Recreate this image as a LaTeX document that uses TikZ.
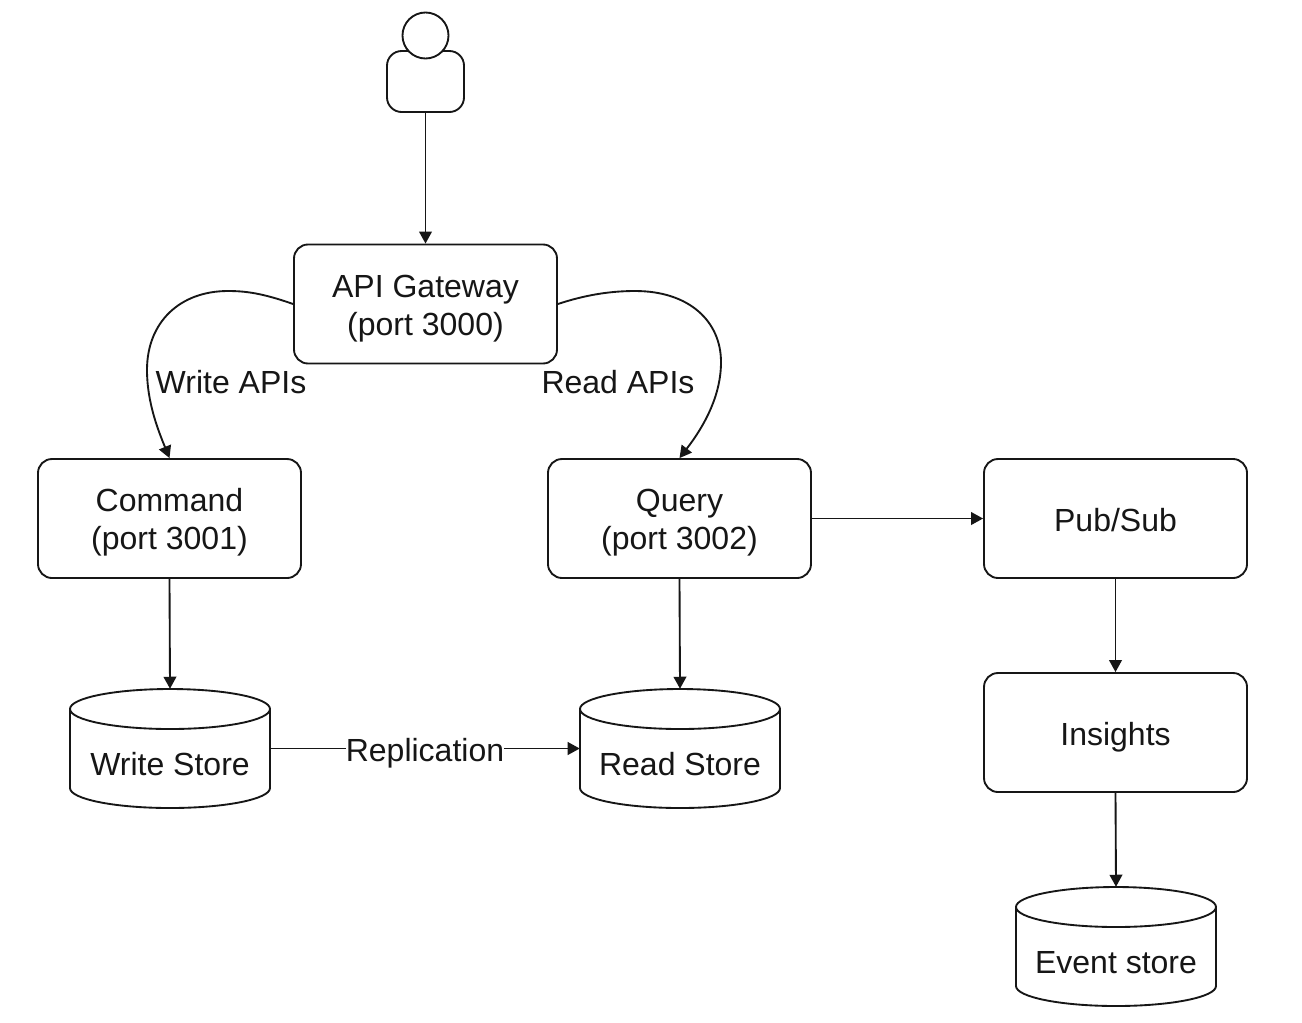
\documentclass[tikz,border=0pt]{standalone}
\usepackage{fontspec}
\setmainfont{Liberation Sans}
\usetikzlibrary{arrows.meta}
\definecolor{ink}{HTML}{161616}
\tikzset{
  x=0.75pt,y=-0.75pt,
  every node/.style={font=\fontsize{24}{28.5}\selectfont,text=ink},
  lw/.style={line width=1.4pt},
  svcbox/.style={draw=ink,lw,rounded corners=10.5pt,minimum width=197.25pt,minimum height=89.25pt,inner sep=0pt,fill=white},
  cylarea/.style={minimum width=150pt,minimum height=89.25pt,inner sep=0pt},
  cylline/.style={draw=ink,lw,fill=white},
  lbl/.style={inner sep=0pt,align=center},
  boxtext/.style={label={[lbl,yshift=-3.5pt]center:#1}},
  boxtextup/.style={label={[lbl,yshift=-2.75pt]center:#1}},
  boxtextslash/.style={label={[lbl,yshift=-1.25pt]center:#1}},
  conn/.style={draw=ink,lw,-{Triangle[length=9pt,width=9.5pt]}},
  shapeline/.style={draw=ink,lw,fill=white},
}
\newcommand{\cylshape}[3]{%
  % #1 name, #2 centre x, #3 centre y
  \node[cylarea] (#1) at (#2,#3) {};
  \path[cylline] (#2-100,#3-39.5) arc[start angle=180,end angle=0,x radius=75pt,y radius=15pt]
     -- (#2+100,#3+39.5) arc[start angle=0,end angle=-180,x radius=75pt,y radius=15pt] -- cycle;
  \path[cylline] (#2-100,#3-39.5) arc[start angle=180,end angle=360,x radius=75pt,y radius=15pt];
}
\begin{document}
\begin{tikzpicture}
\useasboundingbox[fill=white] (0,0) rectangle (1302,1022);
% person
\node[shapeline,rounded corners=11pt,minimum width=57.75pt,minimum height=45.75pt,inner sep=0pt] (body) at (425.5,81.5) {};
\node[shapeline,circle,minimum size=34.5pt,inner sep=0pt] (head) at (425.5,35.5) {};
% services
\node[svcbox,boxtext={API Gateway\\(port 3000)}] (gw) at (425.5,304) {};
\node[svcbox,boxtextup={Command\\(port 3001)}] (cmd) at (169.5,518.5) {};
\node[svcbox,boxtextup={Query\\(port 3002)}] (qry) at (679.5,518.5) {};
\node[svcbox,boxtextslash={Pub/Sub}] (pub) at (1115.5,518.5) {};
\node[svcbox,boxtext={Insights}] (ins) at (1115.5,732.5) {};
% stores
\cylshape{ws}{170}{748.5}
\cylshape{rs}{680}{748.5}
\cylshape{es}{1116}{946.5}
\node[lbl] (wsl) at (170,764) {Write Store};
\node[lbl] (rsl) at (680,764) {Read Store};
\node[lbl] (esl) at (1116,963) {Event store};
% connectors
\draw[conn] (body.south) -- (gw.north);
\draw[conn] (gw.west) .. controls (262,293) and (245,291) .. (228,291)
   .. controls (180,291) and (147,322) .. (147,370)
   .. controls (147,402) and (158,430) .. (cmd.north);
\draw[conn] (gw.east) .. controls (585,295) and (610,291) .. (635,291)
   .. controls (690,291) and (721,322) .. (721,362)
   .. controls (721,395) and (705,425) .. (qry.north);
\draw[conn] (cmd.south) -- (ws.north);
\draw[conn] (qry.south) -- (rs.north);
\draw[conn] (qry.east) -- (pub.west);
\draw[conn] (pub.south) -- (ins.north);
\draw[conn] (ins.south) -- (es.north);
\draw[conn] (ws.east) -- node[lbl,fill=white,pos=0.5,yshift=-3.2pt] (rep) {Replication} (rs.west);
% edge labels
\node[lbl] (wapi) at (231,382) {Write APIs};
\node[lbl] (rapi) at (618,382) {Read APIs};
\end{tikzpicture}
\end{document}
